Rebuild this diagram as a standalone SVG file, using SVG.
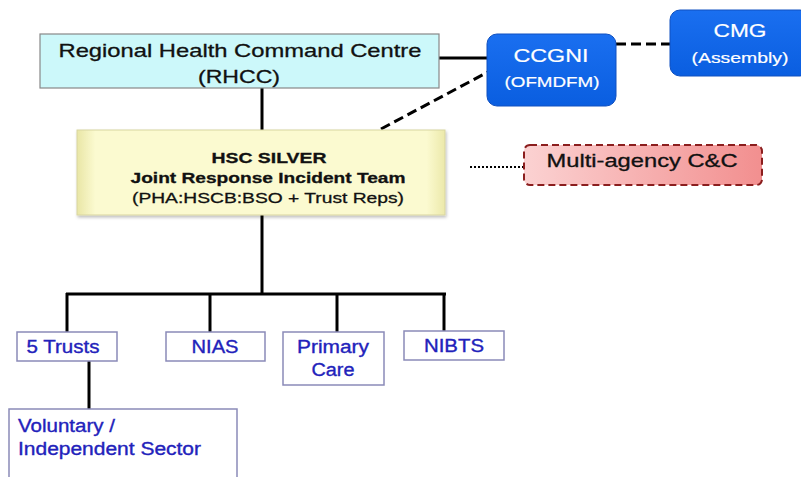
<svg xmlns="http://www.w3.org/2000/svg" width="801" height="477" viewBox="0 0 801 477">
<defs>
<linearGradient id="silv" x1="0" y1="0" x2="1" y2="0">
<stop offset="0" stop-color="#e9e6a6"/>
<stop offset="0.05" stop-color="#fbfad0"/>
<stop offset="0.95" stop-color="#fbfad0"/>
<stop offset="1" stop-color="#ece9aa"/>
</linearGradient>
<linearGradient id="pink" x1="0" y1="0" x2="1" y2="0">
<stop offset="0" stop-color="#fbd2d2"/>
<stop offset="1" stop-color="#f28f8f"/>
</linearGradient>
<linearGradient id="blue" x1="0" y1="0" x2="0" y2="1">
<stop offset="0" stop-color="#1a6ff0"/>
<stop offset="1" stop-color="#0a5ee0"/>
</linearGradient>
<filter id="sh" x="-10%" y="-10%" width="120%" height="130%">
<feDropShadow dx="1" dy="2" stdDeviation="1.5" flood-color="#000" flood-opacity="0.25"/>
</filter>
</defs>
<style>
text{font-family:"Liberation Sans",Arial,sans-serif}
.solid{stroke:#000;stroke-width:3;fill:none}
.dash{stroke:#000;stroke-width:3;fill:none;stroke-dasharray:10 5}
.dot{stroke:#000;stroke-width:2;fill:none;stroke-dasharray:2 2}
.box{fill:#fff;stroke:#8a8ab8;stroke-width:1.5}
.bl{fill:#2222bb;stroke:#2222bb;stroke-width:0.35;font-size:18px}
.wt{fill:#fff;stroke:#fff;stroke-width:0.2;text-anchor:middle}
.dk{fill:#111;stroke:#111;stroke-width:0.3;text-anchor:middle}
</style>
<rect width="801" height="477" fill="#fff"/>
<g id="connectors">
<line class="solid" x1="439" y1="58" x2="488" y2="58"/>
<line class="dash" x1="616" y1="44" x2="670" y2="44"/>
<line class="dash" x1="381" y1="129" x2="488" y2="72"/>
<line class="solid" x1="262" y1="88" x2="262" y2="131"/>
<line class="dot" x1="470" y1="167" x2="524" y2="167"/>
<line class="solid" x1="262" y1="215" x2="262" y2="294"/>
<line class="solid" x1="66" y1="294" x2="446" y2="294"/>
<line class="solid" x1="67" y1="293" x2="67" y2="332"/>
<line class="solid" x1="210" y1="293" x2="210" y2="332"/>
<line class="solid" x1="337" y1="293" x2="337" y2="332"/>
<line class="solid" x1="444" y1="293" x2="444" y2="331"/>
<line class="solid" x1="89" y1="361" x2="89" y2="409"/>
</g>
<g id="rhcc">
<rect x="40" y="34" width="399" height="54" fill="#ccf8fa" stroke="#888" stroke-width="1.2"/>
<text class="dk" x="240" y="57" font-size="19" textLength="363" lengthAdjust="spacingAndGlyphs">Regional Health Command Centre</text>
<text class="dk" x="239" y="83" font-size="19" textLength="82" lengthAdjust="spacingAndGlyphs">(RHCC)</text>
</g>
<g id="ccgni">
<rect x="487" y="34" width="129" height="72" rx="10" fill="url(#blue)" stroke="#1050c0" stroke-width="1"/>
<text class="wt" x="551" y="62" font-size="19" textLength="75" lengthAdjust="spacingAndGlyphs">CCGNI</text>
<text class="wt" x="552" y="87" font-size="15.5" textLength="95" lengthAdjust="spacingAndGlyphs">(OFMDFM)</text>
</g>
<g id="cmg">
<rect x="670" y="10" width="140" height="66" rx="10" fill="url(#blue)" stroke="#1050c0" stroke-width="1"/>
<text class="wt" x="740" y="37" font-size="19" textLength="53" lengthAdjust="spacingAndGlyphs">CMG</text>
<text class="wt" x="740" y="63" font-size="15.5" textLength="97" lengthAdjust="spacingAndGlyphs">(Assembly)</text>
</g>
<g id="silver">
<rect x="77" y="130" width="368" height="85" fill="url(#silv)" stroke="#d8d5a0" stroke-width="1" filter="url(#sh)"/>
<text class="dk" x="269" y="163" font-size="15.5" font-weight="bold" textLength="115" lengthAdjust="spacingAndGlyphs">HSC SILVER</text>
<text class="dk" x="268" y="183" font-size="15.5" font-weight="bold" textLength="275" lengthAdjust="spacingAndGlyphs">Joint Response Incident Team</text>
<text class="dk" x="268" y="203" font-size="15.5" textLength="272" lengthAdjust="spacingAndGlyphs">(PHA:HSCB:BSO + Trust Reps)</text>
</g>
<g id="multiagency">
<rect x="524" y="145" width="238" height="40" rx="6" fill="url(#pink)" stroke="#8b1e1e" stroke-width="2" stroke-dasharray="7 4"/>
<text class="dk" x="642" y="167" font-size="18" textLength="191" lengthAdjust="spacingAndGlyphs">Multi-agency C&amp;C</text>
</g>
<g id="trusts">
<rect class="box" x="17" y="332" width="100" height="29"/>
<text class="bl" x="63" y="353" text-anchor="middle" textLength="73" lengthAdjust="spacingAndGlyphs">5 Trusts</text>
</g>
<g id="nias">
<rect class="box" x="166" y="332" width="99" height="29"/>
<text class="bl" x="215" y="353" text-anchor="middle" textLength="47" lengthAdjust="spacingAndGlyphs">NIAS</text>
</g>
<g id="primary">
<rect class="box" x="283" y="332" width="101" height="53"/>
<text class="bl" x="333" y="353" text-anchor="middle" textLength="72" lengthAdjust="spacingAndGlyphs">Primary</text>
<text class="bl" x="333" y="376" text-anchor="middle" textLength="43" lengthAdjust="spacingAndGlyphs">Care</text>
</g>
<g id="nibts">
<rect class="box" x="404" y="331" width="100" height="29"/>
<text class="bl" x="454" y="352" text-anchor="middle" textLength="60" lengthAdjust="spacingAndGlyphs">NIBTS</text>
</g>
<g id="voluntary">
<rect class="box" x="9" y="409" width="228" height="80"/>
<text class="bl" x="18" y="432" textLength="97" lengthAdjust="spacingAndGlyphs">Voluntary /</text>
<text class="bl" x="18" y="455" textLength="183" lengthAdjust="spacingAndGlyphs">Independent Sector</text>
</g>
</svg>
